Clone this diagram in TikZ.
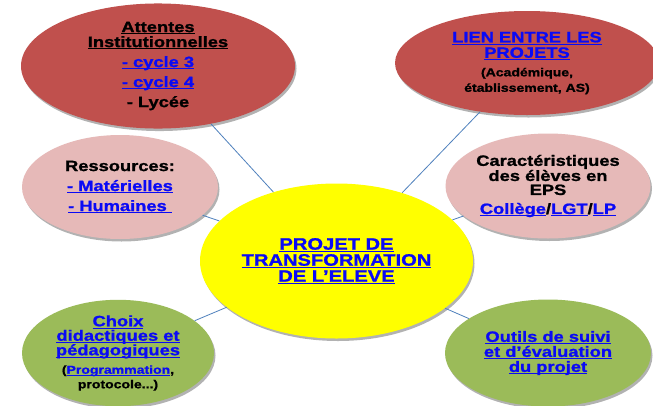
\documentclass[tikz,border=0pt]{standalone}
\usepackage{fontspec}
\setmainfont{Liberation Sans}[FakeStretch=1.22, BoldFeatures={FakeBold=1.2}]
\usetikzlibrary{shapes.geometric,shadows}
\definecolor{redE}{HTML}{C0504D}
\definecolor{pinkE}{HTML}{E6B9B8}
\definecolor{yelE}{HTML}{FFFF00}
\definecolor{greenE}{HTML}{9BBB59}
\definecolor{linkC}{HTML}{4F81BD}
\definecolor{ublue}{HTML}{0A0AF5}
\newsavebox\ulbox
\newcommand{\ulx}[1]{\sbox\ulbox{#1}\rlap{\rule[-2.2pt]{\wd\ulbox}{0.9pt}}\usebox\ulbox}
\newcommand{\bl}[1]{\textcolor{ublue}{\ulx{#1}}}
\newcommand{\fs}[2]{\fontsize{#1}{#2}\selectfont}
\tikzset{
  bub/.style={ellipse, inner sep=0pt, align=center, text=black,
    drop shadow={shadow xshift=1.5pt, shadow yshift=-2.5pt, opacity=0.3, fill=black}},
  link/.style={draw=linkC, line width=0.8pt}
}
\begin{document}
\begin{tikzpicture}[x=1pt,y=-1pt]
\useasboundingbox (0,0) rectangle (653,405);
\fill[white] (0,0) rectangle (653,405);

\node[bub, fill=redE, minimum width=274pt, minimum height=122pt,
      font={\bfseries\fs{15}{15}}] (tl) at (158,66)
  {\ulx{Attentes}\\ \ulx{Institutionnelles}\\[5pt]
   \bl{- cycle 3}\\[5pt] \bl{- cycle 4}\\[5pt] - Lycée};

\node[bub, fill=redE, minimum width=264pt, minimum height=104pt,
      font={\bfseries\fs{15}{15.5}}] (tr) at (527,63)
  {\bl{LIEN ENTRE LES}\\ \bl{PROJETS}\\[3pt]
   \fs{11.5}{11}(Académique,\\ \fs{11.5}{10}établissement, AS)};

\node[bub, fill=pinkE, minimum width=196pt, minimum height=104pt,
      font={\bfseries\fs{15}{15}}] (rl) at (120,187)
  {Ressources:\\[5pt] \bl{- Matérielles}\\[5pt] \bl{- Humaines\ }};

\node[bub, fill=pinkE, minimum width=205pt, minimum height=105pt,
      font={\bfseries\fs{15}{14}}] (rr) at (548,186)
  {Caractéristiques\\ des élèves en\\ EPS\\[5pt]
   \bl{Collège}/\bl{LGT}/\bl{LP}};

\node[bub, fill=greenE, minimum width=192pt, minimum height=106pt,
      font={\bfseries\fs{15}{14.5}}] (bl) at (118,353)
  {\bl{Choix}\\ \bl{didactiques et}\\ \bl{pédagogiques}\\[4pt]
   \fs{11.5}{11}(\bl{Programmation},\\ \fs{11.5}{11}protocole...)};

\node[bub, fill=greenE, minimum width=206pt, minimum height=107pt,
      font={\bfseries\fs{15}{15}}] (br) at (548,353)
  {\bl{Outils de suivi}\\ \bl{et d’évaluation}\\ \bl{du projet}};

\node[bub, fill=yelE, minimum width=273pt, minimum height=155pt,
      font={\bfseries\fs{16.5}{16}}] (c) at (336.5,261)
  {\bl{PROJET DE}\\ \bl{TRANSFORMATION}\\ \bl{DE L’ELEVE}};

\draw[link] (c) -- (tl);
\draw[link] (c) -- (tr);
\draw[link] (c) -- (rl);
\draw[link] (c) -- (rr);
\draw[link] (c) -- (bl);
\draw[link] (c) -- (br);
\end{tikzpicture}
\end{document}
